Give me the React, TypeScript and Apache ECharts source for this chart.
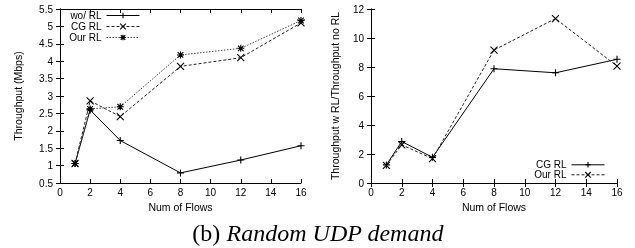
import React, { useEffect, useRef } from "react";
import * as echarts from "echarts";

const xFlows = [1, 2, 4, 8, 12, 16];
const woRL = [1.06, 2.6, 1.72, 0.79, 1.16, 1.57];
const cgRL = [1.06, 2.86, 2.41, 3.85, 4.1, 5.1];
const ourRL = [1.06, 2.63, 2.69, 4.18, 4.37, 5.17];
const cgRatio = [1.25, 2.86, 1.77, 7.88, 7.6, 8.53];
const ourRatio = [1.22, 2.63, 1.68, 9.17, 11.34, 8.06];

const xTicks = { min: 0, max: 16, interval: 2 };
const leftY = { min: 0.5, max: 5.5, interval: 0.5 };
const rightY = { min: 0, max: 12, interval: 2 };

const PLUS = "path://M0,5L10,5M5,0L5,10";
const CROSS = "path://M0,0L10,10M10,0L0,10";
const STAR = "path://M0,5L10,5M5,0L5,10M1,1L9,9M9,1L1,9";

const FONT = "'Liberation Sans', Arial, sans-serif";

function zip(xs: number[], ys: number[]) {
  return xs.map((x, i) => [x, ys[i]]);
}

export default function App() {
  const ref = useRef<HTMLDivElement>(null);
  useEffect(() => {
    document.body.style.margin = "0";
    const chart = echarts.init(ref.current!, undefined, { renderer: "svg" });
    const axisLine = { show: true, lineStyle: { color: "#000", width: 1 } };
    const tick = { show: true, inside: true, length: 4, lineStyle: { color: "#000" } };
    const label = { color: "#000", fontSize: 10, fontFamily: FONT };
    const nameStyle = { color: "#000", fontSize: 10.5, fontFamily: FONT };

    const mkX = (grid: number) => [
      {
        type: "value", gridIndex: grid, ...xTicks, position: "bottom",
        axisLine, axisTick: tick, splitLine: { show: false },
        axisLabel: { ...label, margin: 4 },
        name: "Num of Flows", nameLocation: "middle", nameGap: 13, nameTextStyle: nameStyle,
      },
      {
        type: "value", gridIndex: grid, ...xTicks, position: "top",
        axisLine, axisTick: tick, splitLine: { show: false }, axisLabel: { show: false },
      },
    ];
    const mkY = (grid: number, range: any, name: string, gap: number) => [
      {
        type: "value", gridIndex: grid, ...range, position: "left",
        axisLine, axisTick: tick, splitLine: { show: false },
        axisLabel: { ...label, margin: 7 },
        name, nameLocation: "middle", nameGap: gap, nameRotate: 90, nameTextStyle: nameStyle,
      },
      {
        type: "value", gridIndex: grid, ...range, position: "right",
        axisLine, axisTick: tick, splitLine: { show: false }, axisLabel: { show: false },
      },
    ];

    const series = (name: string, x: number, y: number, data: number[], symbol: string, lineType: any, color: string) => ({
      type: "line", name, xAxisIndex: x, yAxisIndex: y,
      data: zip(xFlows, data),
      symbol, symbolSize: 7, showSymbol: true,
      lineStyle: { color, width: 1, type: lineType },
      itemStyle: { color: "none", borderColor: "#000", borderWidth: 1.1 },
    });

    const legend = (name: string, right: number, top: number, lh: number) => ({
      data: [name], right, top, orient: "horizontal", align: "right",
      padding: 0, itemWidth: 33, itemHeight: 7,
      lineStyle: { width: 1 },
      itemStyle: { color: "none", borderColor: "#000", borderWidth: 1.1 },
      textStyle: { color: "#000", fontSize: 10, lineHeight: lh, fontFamily: FONT, padding: [0, 0, 0, 0] },
      formatter: (n: string) => n.split("#")[0],
      selectedMode: false,
    });

    chart.setOption({
      animation: false,
      grid: [
        { left: 60, top: 9, width: 241, height: 174 },
        { left: 371, top: 9, width: 246, height: 174 },
      ],
      xAxis: [...mkX(0), ...mkX(1)],
      yAxis: [
        ...mkY(0, leftY, "Throughput (Mbps)", 37),
        ...mkY(1, rightY, "Throughput w RL/Throughput no RL", 31),
      ],
      legend: [
        legend("wo/ RL", 495, 10, 11),
        legend("CG RL", 495, 21, 11),
        legend("Our RL", 495, 32, 11),
        legend("CG RL#2", 30, 159.5, 10),
        legend("Our RL#2", 30, 169.5, 10),
      ],
      series: [
        series("wo/ RL", 0, 0, woRL, PLUS, "solid", "#000"),
        series("CG RL", 0, 0, cgRL, CROSS, [3, 2], "#222"),
        series("Our RL", 0, 0, ourRL, STAR, [1.5, 1.5], "#444"),
        series("CG RL#2", 2, 2, cgRatio, PLUS, "solid", "#000"),
        series("Our RL#2", 2, 2, ourRatio, CROSS, [3, 2], "#222"),
      ],
      graphic: [
        {
          type: "text", x: 318, y: 233,
          style: {
            text: "{a|(b) }{b|Random UDP demand}",
            align: "center", verticalAlign: "middle",
            rich: {
              a: { fontFamily: "'Liberation Serif', 'Times New Roman', serif", fontSize: 24, fill: "#000" },
              b: { fontFamily: "'Liberation Serif', 'Times New Roman', serif", fontSize: 24, fontStyle: "italic", fill: "#000" },
            },
          },
        },
      ],
    });
    return () => chart.dispose();
  }, []);
  return <div ref={ref} style={{ position: "fixed", left: 0, top: 0, width: 635, height: 248 }} />;
}
